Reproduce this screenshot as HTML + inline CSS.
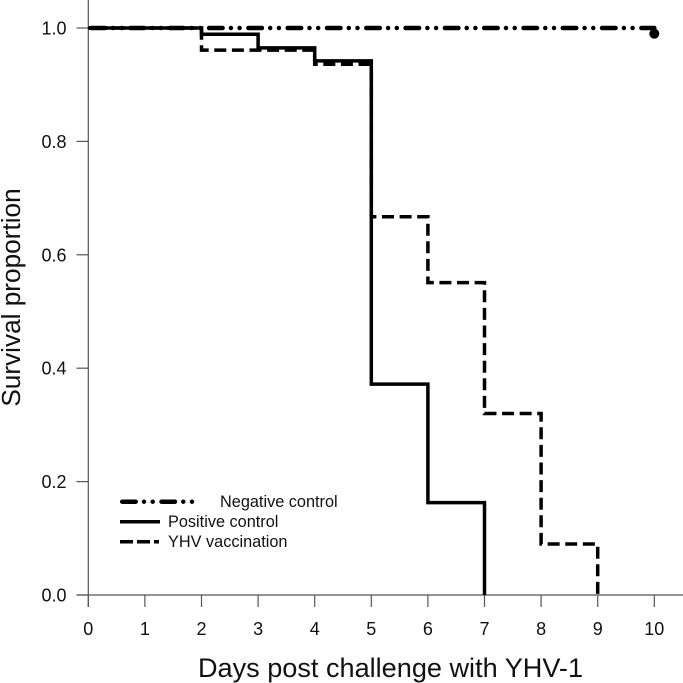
<!DOCTYPE html>
<html>
<head>
<meta charset="utf-8">
<style>
html,body{margin:0;padding:0;background:#fff;width:683px;height:683px;overflow:hidden}
svg{display:block}
text{font-family:"Liberation Sans",Arial,sans-serif;fill:#111}
</style>
</head>
<body>
<svg id="chart" width="683" height="683" viewBox="0 0 683 683" xmlns="http://www.w3.org/2000/svg">
  <rect x="0" y="0" width="683" height="683" fill="#fff"/>
  <g id="axes"></g>
  <g id="series"></g>
  <text x="390.5" y="677" font-size="27.1" text-anchor="middle">Days post challenge with YHV-1</text>
  <text transform="translate(20,297.5) rotate(-90)" font-size="26.2" text-anchor="middle">Survival proportion</text>
  <g>
    <line x1="122.2" y1="501.7" x2="192.5" y2="501.7" stroke="#000" stroke-width="4.5" stroke-linecap="round" stroke-dasharray="13.5 8.3 0 8.7 0 8.8"/>
    <text x="220" y="507" font-size="16.3">Negative control</text>
    <line x1="120" y1="521.7" x2="160" y2="521.7" stroke="#000" stroke-width="3.5"/>
    <text x="168" y="527" font-size="16.3">Positive control</text>
    <line x1="120" y1="541.7" x2="159" y2="541.7" stroke="#000" stroke-width="3.5" stroke-dasharray="13 4"/>
    <text x="168" y="547" font-size="16.3">YHV vaccination</text>
  </g>
</svg>
<script>
const days = [0, 1, 2, 3, 4, 5, 6, 7, 8, 9, 10];
const yTickValues = [0, 0.2, 0.4, 0.6, 0.8, 1.0];
const xTickLabels = ["0", "1", "2", "3", "4", "5", "6", "7", "8", "9", "10"];
const yTickLabels = ["0.0", "0.2", "0.4", "0.6", "0.8", "1.0"];
const negativeDays = [0, 10];
const negativeValues = [1, 1];
const negativeEndPoint = [10, 0.99];
const positiveDays = [0, 2, 3, 4, 5, 6, 7];
const positiveValues = [1, 0.989, 0.965, 0.942, 0.372, 0.163, 0];
const vaccineDays = [0, 2, 4, 5, 6, 7, 8, 9];
const vaccineValues = [1, 0.961, 0.936, 0.667, 0.551, 0.32, 0.09, 0];

const NS = 'http://www.w3.org/2000/svg';
function xScale(d) { return 88.3 + d * 56.6; }
function yScale(v) { return 595 - v * 567; }
function make(parent, tag, attrs) {
  const el = document.createElementNS(NS, tag);
  for (const k in attrs) el.setAttribute(k, attrs[k]);
  parent.appendChild(el);
  return el;
}
function stepPath(xs, ys) {
  let d = 'M' + xScale(xs[0]) + ' ' + yScale(ys[0]);
  for (let i = 1; i < xs.length; i++) {
    d += 'H' + xScale(xs[i]) + 'V' + yScale(ys[i]);
  }
  return d;
}

const axes = document.getElementById('axes');
const series = document.getElementById('series');
const axisColor = '#555';

const xAxis = make(axes, 'line', {x1: 76.5, x2: 683, y1: yScale(0), y2: yScale(0), stroke: axisColor, 'stroke-width': 1.2});


const yAxis = make(axes, 'line', {x1: xScale(0), x2: xScale(0), y1: 0, y2: 607, stroke: axisColor, 'stroke-width': 1.2});



days.forEach(function (d, i) {
  const t = make(axes, 'line', {x1: xScale(d), x2: xScale(d), y1: yScale(0), y2: 607, stroke: axisColor, 'stroke-width': 1.2});
  
  
  const l = make(axes, 'text', {x: xScale(d), y: 635, 'font-size': 18, 'text-anchor': 'middle'});
  
  
  l.textContent = xTickLabels[i];
});
yTickValues.forEach(function (v, i) {
  const t = make(axes, 'line', {x1: 76.5, x2: xScale(0), y1: yScale(v), y2: yScale(v), stroke: axisColor, 'stroke-width': 1.2});
  
  
  const l = make(axes, 'text', {x: 66.5, y: yScale(v) + 6.5, 'font-size': 18, 'text-anchor': 'end'});
  
  
  l.textContent = yTickLabels[i];
});

const vaccineLine = make(series, 'path', {d: stepPath(vaccineDays, vaccineValues), fill: 'none', stroke: '#000', 'stroke-width': 3.5, 'stroke-dasharray': '12 5.6', 'stroke-dashoffset': 10.3});



const positiveLine = make(series, 'path', {d: stepPath(positiveDays, positiveValues), fill: 'none', stroke: '#000', 'stroke-width': 3.5});



const negativeLine = make(series, 'path', {d: 'M' + xScale(negativeDays[0]) + ' ' + yScale(negativeValues[0]) + 'L' + xScale(negativeDays[1]) + ' ' + yScale(negativeValues[1]), fill: 'none', stroke: '#000', 'stroke-width': 4.5, 'stroke-linecap': 'round', 'stroke-dasharray': '13.5 8.3 0 8.7 0 8.8', 'stroke-dashoffset': 36.4});



const endPoint = make(series, 'circle', {cx: xScale(negativeEndPoint[0]), cy: yScale(negativeEndPoint[1]), r: 5, fill: '#000'});


</script>
</body>
</html>
